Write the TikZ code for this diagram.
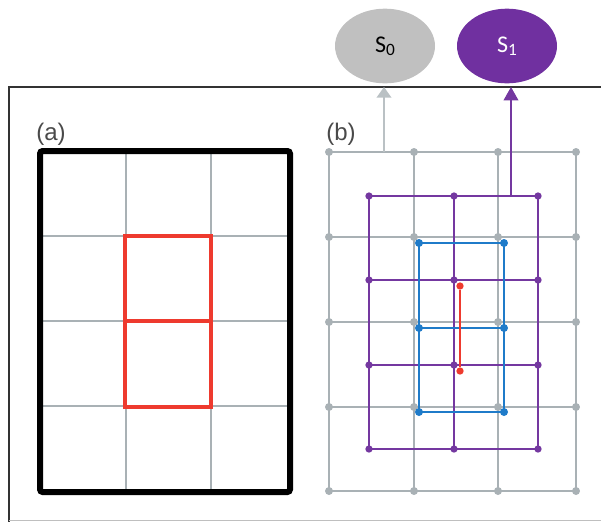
\documentclass[tikz,border=0pt]{standalone}
\usepackage{fontspec}
\setmainfont{Liberation Sans}
\newfontfamily\calib{Carlito}
\usetikzlibrary{shapes.geometric,arrows.meta}
\definecolor{gridg}{HTML}{A9B1B5}
\definecolor{purp}{HTML}{7438A0}
\definecolor{bluec}{HTML}{1F7BC9}
\definecolor{redc}{HTML}{EE3A2E}
\definecolor{lab}{HTML}{4A4A4A}
\begin{document}
\begin{tikzpicture}[x=0.75pt,y=-0.75pt,
  gline/.style={gridg,line width=1.4pt},
  pline/.style={purp,line width=1.3pt},
  bline/.style={bluec,line width=1.4pt},
  dotg/.style={circle,fill=gridg,inner sep=0pt,minimum size=6pt},
  dotp/.style={circle,fill=purp,inner sep=0pt,minimum size=5.5pt},
  dotb/.style={circle,fill=bluec,inner sep=0pt,minimum size=6pt},
  dotr/.style={circle,fill=redc,inner sep=0pt,minimum size=5.5pt},
  state/.style={ellipse,minimum width=75pt,minimum height=56pt,inner sep=0pt,font=\calib\fontsize{18}{18}\selectfont},
  lbl/.style={font=\fontsize{18}{18}\selectfont,text=lab,inner sep=0pt,anchor=base west}]
\useasboundingbox (0,0) rectangle (601,522);
% outer frame
\draw[color=black!80,line width=1.5pt] (9,522) -- (9,87) -- (601,87);
\draw[color=black!25,line width=1.1pt] (9,520.5) -- (601,520.5);
% state nodes
\node[state,fill={rgb,255:red,192;green,192;blue,192},text=black] (s0) at (385,46) {S\raisebox{-0.12em}{\fontsize{13}{13}\selectfont 0}};
\node[state,fill={rgb,255:red,112;green,48;blue,160},text=white] (s1) at (507,46) {S\raisebox{-0.12em}{\fontsize{13}{13}\selectfont 1}};
% labels
\node[lbl] (la) at (36,140) {(a)};
\node[lbl] (lb) at (326,140) {(b)};
% panel (a)
\foreach \x in {126,211} \draw[gridg,line width=0.9pt] (\x,151) -- (\x,492);
\foreach \y in {236,321,406} \draw[gridg,line width=0.9pt] (40,\y) -- (290,\y);
\draw[redc,line width=3pt] (125,236) rectangle (211,407);
\draw[redc,line width=3pt] (125,321) -- (211,321);
\draw[black,line width=4.5pt,rounded corners=2pt] (40,151) rectangle (290,492);
% panel (b) gray grid
\foreach \x in {329,414,498,576} \draw[gline] (\x,152) -- (\x,491);
\foreach \y in {152,237,322,407,491} \draw[gline] (329,\y) -- (576,\y);
\foreach \x in {329,414,498,576} \foreach \y in {152,237,322,407,491} \node[dotg] at (\x,\y) {};
% purple grid
\foreach \x in {369,454,538} \draw[pline] (\x,196) -- (\x,449);
\foreach \y in {196,280,365,449} \draw[pline] (369,\y) -- (538,\y);
\foreach \x in {369,454,538} \foreach \y in {196,280,365,449} \node[dotp] at (\x,\y) {};
% blue
\draw[bline] (419,243) rectangle (504,412);
\draw[bline] (419,328) -- (504,328);
\foreach \x in {419,504} \foreach \y in {243,328,412} \node[dotb] at (\x,\y) {};
% red segment
\node[dotr] (r1) at (460,286) {};
\node[dotr] (r2) at (460,371) {};
\draw[redc,line width=1.8pt] (r1) -- (r2);
% arrows
\coordinate (g0) at (384,152);
\coordinate (p0) at (511,196);
\draw[gridg!80!white,line width=1.3pt,-{Triangle[width=11pt,length=8pt]}] (g0) -- (384,87);
\draw[purp,line width=1.1pt,-{Triangle[width=11pt,length=10pt]}] (p0) -- (511,87);
\end{tikzpicture}
\end{document}
